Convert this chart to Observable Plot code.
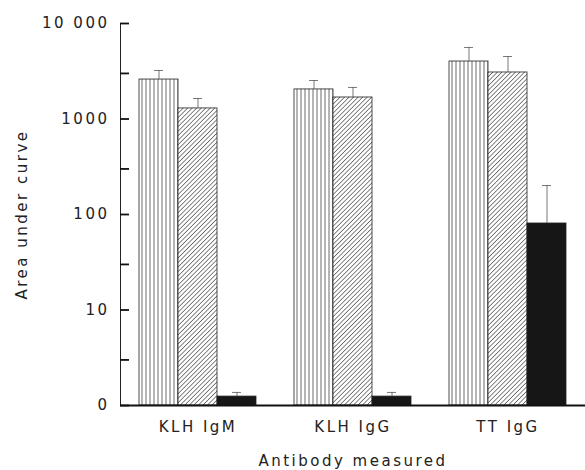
<!DOCTYPE html>
<html><head><meta charset="utf-8">
<script src="https://cdn.jsdelivr.net/npm/d3@7"></script>
<script src="https://cdn.jsdelivr.net/npm/@observablehq/plot@0.6"></script>
<style>
body{margin:0;background:#fff}
svg g[aria-label="y-axis tick"] path,
svg g[aria-label="y-axis line"] line,
svg g[aria-label="y-axis line"] path { stroke-width: 1.8px; stroke: #111; }
</style>
</head><body>
<svg width="0" height="0" style="position:absolute">
<defs>
<pattern id="vstripe" patternUnits="userSpaceOnUse" width="4" height="4">
 <rect width="4" height="4" fill="#fff"/>
 <line x1="1" y1="0" x2="1" y2="4" stroke="#444" stroke-width="0.8"/>
</pattern>
<pattern id="hatch" patternUnits="userSpaceOnUse" width="3.2" height="3.2" patternTransform="rotate(45)">
 <rect width="3.2" height="3.2" fill="#fff"/>
 <line x1="0" y1="0" x2="0" y2="3.2" stroke="#333" stroke-width="1.2"/>
</pattern>
</defs></svg>
<div id="chart"></div>
<script>
// categories
const groups = ["KLH IgM", "KLH IgG", "TT IgG"];
const seriesNames = ["s1", "s2", "s3"];
// series values (bar heights) and upper error limits, per group
const s1Values = [2590, 2040, 4000];
const s1Upper  = [3220, 2530, 5610];
const s2Values = [1290, 1680, 3070];
const s2Upper  = [1640, 2140, 4510];
const s3Values = [1.24, 1.24, 80.5];
const s3Upper  = [1.37, 1.37, 201];
// y tick values and labels
const yMajorTicks = [1, 10, 100, 1000, 10000];
const yMajorLabels = ["0", "10", "100", "1000", "10 000"];
const yMinorTicks = [3, 30, 300, 3000];

const fills = {s1: "url(#vstripe)", s2: "url(#hatch)", s3: "#161616"};

const allValues = [s1Values, s2Values, s3Values];
const allUpper = [s1Upper, s2Upper, s3Upper];
const data = [];
seriesNames.forEach((s, i) => groups.forEach((g, j) => {
  data.push({group: g, series: s, value: allValues[i][j], upper: allUpper[i][j]});
}));
const labelMap = new Map(yMajorTicks.map((t, i) => [t, yMajorLabels[i]]));

const chart = Plot.plot({
  width: 585,
  height: 470,
  marginLeft: 119,
  marginRight: 0,
  marginTop: 23,
  marginBottom: 65,
  style: "font-family: 'DejaVu Sans'; font-size: 15px; letter-spacing: 2.5px; color: #222; background: #fff;",
  fx: {domain: groups, padding: 0, tickSize: 0, tickPadding: 16, label: "Antibody measured", labelAnchor: "center", labelOffset: 60, labelArrow: "none"},
  x: {domain: seriesNames, paddingInner: 0, paddingOuter: 0.48, axis: null},
  y: {type: "log", domain: [1, 10000], ticks: [...yMajorTicks, ...yMinorTicks],
      tickFormat: d => labelMap.get(d) ?? "", tickSize: -9, tickPadding: 20, line: true,
      label: "Area under curve", labelAnchor: "center", labelOffset: 104, labelArrow: "none"},
  color: {type: "identity"},
  marks: [
    Plot.barY(data, {fx: "group", x: "series", y1: 1, y2: "value", fill: d => fills[d.series], stroke: "#222", strokeWidth: 0.8}),
    Plot.ruleX(data, {fx: "group", x: "series", y1: "value", y2: "upper", stroke: "#555", strokeWidth: 0.8}),
    Plot.tickY(data, {fx: "group", x: "series", y: "upper", stroke: "#555", strokeWidth: 0.8, inset: 15}),
    Plot.ruleY([1], {stroke: "#111", strokeWidth: 2})
  ]
});
document.getElementById("chart").appendChild(chart);
</script>
</body></html>
